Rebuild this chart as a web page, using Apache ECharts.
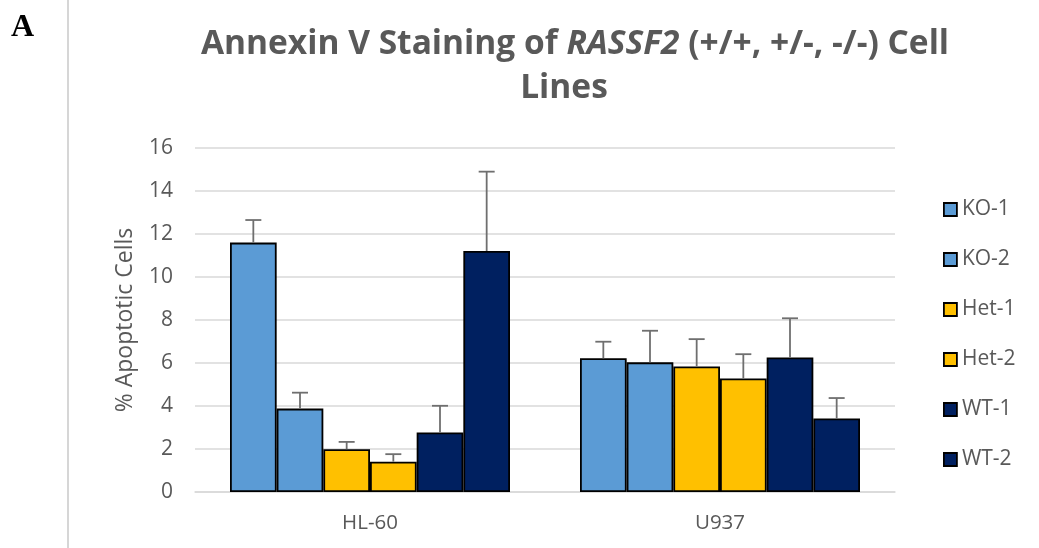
<!DOCTYPE html>
<html>
<head>
<meta charset="utf-8">
<script src="https://cdn.jsdelivr.net/npm/echarts@6/dist/echarts.min.js"></script>
<style>
  html, body { margin: 0; padding: 0; background: #ffffff; }
  #chart { width: 1039px; height: 548px; }
</style>
</head>
<body>
<div id="chart"></div>
<script>
// Cell lines on the x axis
const categories = ['HL-60', 'U937'];

// Genotype clones, in bar order within each cell line
const seriesNames = ['KO-1', 'KO-2', 'Het-1', 'Het-2', 'WT-1', 'WT-2'];
const seriesColors = ['#5b9bd5', '#5b9bd5', '#ffc000', '#ffc000', '#002060', '#002060'];

// Mean % apoptotic cells per clone: [HL-60, U937]
const ko1 = [11.6, 6.22];
const ko2 = [3.88, 6.03];
const het1 = [1.99, 5.84];
const het2 = [1.41, 5.28];
const wt1 = [2.77, 6.26];
const wt2 = [11.21, 3.42];

// Upper error bar length per clone: [HL-60, U937]
const ko1Err = [1.05, 0.77];
const ko2Err = [0.74, 1.47];
const het1Err = [0.34, 1.27];
const het2Err = [0.35, 1.13];
const wt1Err = [1.24, 1.82];
const wt2Err = [3.69, 0.95];

// Y axis ticks
const yMin = 0;
const yMax = 16;
const yStep = 2;

const means = [ko1, ko2, het1, het2, wt1, wt2];
const errs = [ko1Err, ko2Err, het1Err, het2Err, wt1Err, wt2Err];

const FONT = "'Open Sans', 'Noto Sans', sans-serif";
const TEXT_GREY = '#595959';
const CATEGORY_GAP = 0.2;

// Draws the upper error bar (stem + cap) over the bar of one clone
function errorBarRenderer(pos) {
  return function (params, api) {
    const cat = api.value(0);
    const mean = api.value(1);
    const sd = api.value(2);
    const base = api.coord([cat, mean]);
    const top = api.coord([cat, mean + sd]);
    const band = api.size([1, 0])[0];
    const barW = band * (1 - CATEGORY_GAP) / seriesNames.length;
    const x = base[0] + (pos - (seriesNames.length - 1) / 2) * barW;
    const cap = 8;
    const style = { stroke: '#6f6f6f', lineWidth: 1.8 };
    return {
      type: 'group',
      children: [
        { type: 'line', shape: { x1: x, y1: base[1], x2: x, y2: top[1] }, style: style },
        { type: 'line', shape: { x1: x - cap, y1: top[1], x2: x + cap, y2: top[1] }, style: style }
      ]
    };
  };
}

const barSeries = seriesNames.map(function (name, i) {
  return {
    name: name,
    type: 'bar',
    data: means[i],
    barGap: '0%',
    barCategoryGap: (CATEGORY_GAP * 100) + '%',
    itemStyle: { color: seriesColors[i], borderColor: '#000000', borderWidth: 1.8 },
    emphasis: { disabled: true },
    z: 2
  };
});

const errorSeries = seriesNames.map(function (name, i) {
  return {
    name: name + ' error',
    type: 'custom',
    renderItem: errorBarRenderer(i),
    data: categories.map(function (c, k) { return [k, means[i][k], errs[i][k]]; }),
    encode: { x: 0, y: [1, 2] },
    z: 3,
    silent: true
  };
});

const chart = echarts.init(document.getElementById('chart'), null, { renderer: 'canvas' });

chart.setOption({
  backgroundColor: '#ffffff',
  animation: false,
  title: [
    {
      text: 'Annexin V Staining of {i|RASSF2} (+/+, +/-, -/-) Cell',
      left: 570,
      textAlign: 'center',
      top: 22,
      textStyle: {
        fontFamily: FONT, fontWeight: 'bold', fontSize: 33.5, color: TEXT_GREY,
        rich: { i: { fontFamily: FONT, fontWeight: 'bold', fontStyle: 'italic', fontSize: 33.5, color: TEXT_GREY } }
      }
    },
    {
      text: 'Lines',
      left: 559,
      textAlign: 'center',
      top: 66,
      textStyle: { fontFamily: FONT, fontWeight: 'bold', fontSize: 33.5, color: TEXT_GREY }
    }
  ],
  grid: { left: 195, right: 144, top: 148, bottom: 56, containLabel: false },
  legend: {
    data: seriesNames,
    orient: 'vertical',
    left: 943,
    top: 199,
    padding: 0,
    itemWidth: 13,
    itemHeight: 13,
    itemGap: 29,
    icon: 'rect',
    itemStyle: { borderColor: '#000000', borderWidth: 1.8 },
    textStyle: { fontFamily: FONT, fontSize: 21, color: TEXT_GREY },
    selectedMode: false
  },
  xAxis: {
    type: 'category',
    data: categories,
    axisLine: { show: true, lineStyle: { color: '#d9d9d9', width: 1.5 } },
    axisTick: { show: false },
    axisLabel: { fontFamily: FONT, fontSize: 20.5, color: TEXT_GREY, margin: 21 },
    splitLine: { show: false }
  },
  yAxis: {
    type: 'value',
    min: yMin,
    max: yMax,
    interval: yStep,
    name: '% Apoptotic Cells',
    nameLocation: 'middle',
    nameGap: 58,
    nameTextStyle: { fontFamily: FONT, fontSize: 23, color: TEXT_GREY },
    axisLine: { show: false },
    axisTick: { show: false },
    axisLabel: { fontFamily: FONT, fontSize: 21, color: TEXT_GREY, margin: 22 },
    splitLine: { show: true, lineStyle: { color: '#d9d9d9', width: 1.5 } }
  },
  graphic: [
    {
      type: 'line',
      shape: { x1: 68, y1: 0, x2: 68, y2: 548 },
      style: { stroke: '#d6d6d6', lineWidth: 2 },
      silent: true
    },
    {
      type: 'text',
      left: 11,
      top: 12,
      style: { text: 'A', font: "bold 32px 'Liberation Serif', 'DejaVu Serif', serif", fill: '#000000' },
      silent: true
    }
  ],
  series: barSeries.concat(errorSeries)
});
</script>
</body>
</html>
